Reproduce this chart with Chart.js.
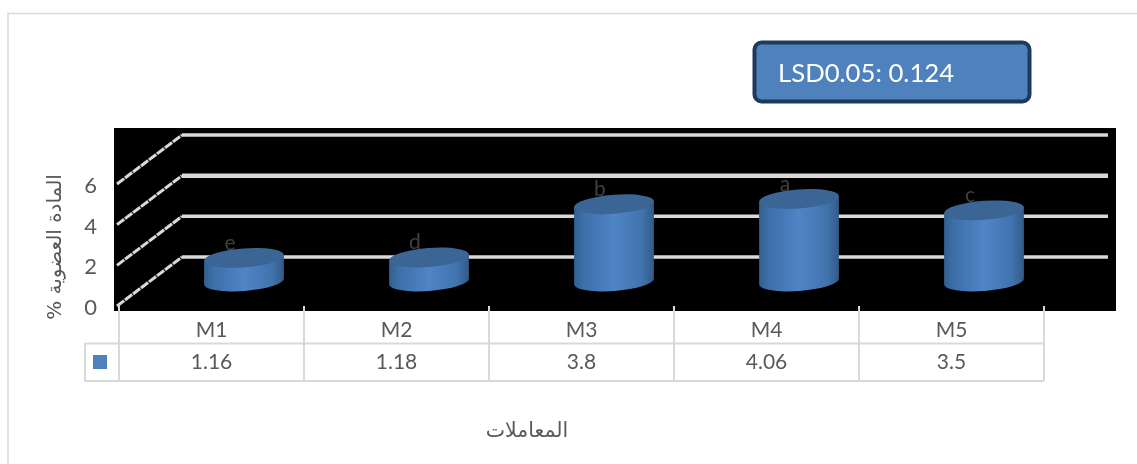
<!DOCTYPE html>
<html><head><meta charset="utf-8">
<style>html,body{margin:0;padding:0;background:#fff}#w{width:1137px;height:464px;position:relative}</style>
<script src="https://cdn.jsdelivr.net/npm/chart.js@4"></script></head>
<body><div id="w"><canvas id="c" width="1137" height="464"></canvas></div>
<script>
const categories = ["M1","M2","M3","M4","M5"];
const values = [1.16,1.18,3.8,4.06,3.5];
const valueLabels = ["1.16","1.18","3.8","4.06","3.5"];
const letters = ["e","d","b","a","c"];
const yTitle = "% المادة العضوية";
const xTitle = "المعاملات";
const noteText = "LSD0.05: 0.124";
const FONT = 'Lato, "Open Sans", sans-serif';
const DEPTH_X = 64, DEPTH_Y = 48, SHIFT = 3;

function rr(ctx,x,y,w,h,r){ctx.beginPath();ctx.roundRect(x,y,w,h,r);}
function line(ctx,x1,y1,x2,y2){ctx.beginPath();ctx.moveTo(x1,y1);ctx.lineTo(x2,y2);ctx.stroke();}

const backdrop = {
  id:'backdrop',
  beforeDraw(chart){
    const {ctx,scales:{x,y},chartArea:a}=chart;
    ctx.save();
    // frame
    ctx.strokeStyle='#d9d9d9';ctx.lineWidth=1.5;
    ctx.beginPath();ctx.moveTo(8,464);ctx.lineTo(8,13.5);ctx.lineTo(1137,13.5);ctx.stroke();
    // note box
    rr(ctx,754.5,42.5,275,59,7);ctx.fillStyle='#4f81bd';ctx.fill();
    ctx.lineWidth=4;ctx.strokeStyle='#1f3a5c';ctx.stroke();
    ctx.fillStyle='#fff';ctx.font='25.7px '+FONT;ctx.textBaseline='middle';ctx.textAlign='left';
    ctx.fillText(noteText,778,74);
    // black wall
    ctx.fillStyle='#000';ctx.fillRect(114,128,1002,183);
    // grid
    ctx.strokeStyle='#d9d9d9';
    y.ticks.forEach(t=>{
      const py=y.getPixelForValue(t.value)-SHIFT;
      ctx.lineWidth=t.value===4?4.5:3.5;
      line(ctx,a.left+DEPTH_X-1,py-DEPTH_Y,1108,py-DEPTH_Y);
      ctx.lineWidth=3;ctx.setLineDash([9,1]);
      line(ctx,a.left-2,py+1,a.left+DEPTH_X-1,py-DEPTH_Y);
      ctx.setLineDash([]);
    });
    // data table
    ctx.strokeStyle='#d9d9d9';ctx.lineWidth=2;
    const cw=x.getPixelForValue(1)-x.getPixelForValue(0);
    const L=a.left, R=a.left+cw*categories.length;
    for(let i=0;i<=categories.length;i++){
      const px=L+cw*i; line(ctx,px,306,px,381);
    }
    line(ctx,85,343.5,R,343.5);line(ctx,85,381,R,381);line(ctx,85,343,85,382);
    ctx.fillStyle='#4f81bd';ctx.fillRect(93,355,14,14);
    ctx.fillStyle='#595959';ctx.font='21px '+FONT;ctx.textAlign='center';ctx.textBaseline='middle';
    valueLabels.forEach((s,i)=>ctx.fillText(s,x.getPixelForValue(i),362.5));
    // x title
    ctx.font='20.5px "DejaVu Sans"';ctx.fillStyle='#595959';
    ctx.fillText(xTitle,527,432);
    ctx.restore();
  },
  beforeDatasetDraw(chart,args){
    const {ctx,scales:{y}}=chart;
    const meta=chart.getDatasetMeta(args.index);
    const y0=y.getPixelForValue(0)-SHIFT;
    const ox=DEPTH_X/2+0.5, oy=DEPTH_Y/2-0.5, rx=40, ry=9.5, rot=-0.075;
    ctx.save();
    meta.data.forEach((el,i)=>{
      const cx=el.x+ox, bot=y0-oy, top=el.y-SHIFT-oy;
      const dx=rx*Math.cos(rot), dy=rx*Math.sin(rot);
      // letter sits behind the cylinder top
      ctx.fillStyle='#404040';ctx.font='21px '+FONT;ctx.textAlign='center';ctx.textBaseline='middle';
      ctx.fillText(letters[i],cx-14,top-15);
      const g=ctx.createLinearGradient(cx-rx,0,cx+rx,0);
      g.addColorStop(0,'#31608f');g.addColorStop(.12,'#3d6fa8');g.addColorStop(.5,'#4f84c6');
      g.addColorStop(.85,'#4173ad');g.addColorStop(1,'#335a85');
      ctx.fillStyle=g;
      ctx.beginPath();
      ctx.moveTo(cx-dx,top-dy);
      ctx.lineTo(cx-dx,bot-dy);
      ctx.ellipse(cx,bot,rx,ry,rot,Math.PI,0,true);
      ctx.lineTo(cx+dx,top+dy);
      ctx.closePath();ctx.fill();
      ctx.fillStyle='#3b6595';
      ctx.beginPath();ctx.ellipse(cx,top,rx,ry,rot,0,Math.PI*2);ctx.fill();
    });
    ctx.restore();
    return false;
  }
};

new Chart(document.getElementById('c'),{
  type:'bar',
  data:{labels:categories,datasets:[{data:values,backgroundColor:'#4f81bd',barPercentage:.43,categoryPercentage:1}]},
  options:{
    responsive:false,animation:false,devicePixelRatio:1,
    layout:{padding:{left:44,right:93,top:186,bottom:10}},
    plugins:{legend:{display:false},tooltip:{enabled:false}},
    scales:{
      x:{
        grid:{display:false,drawTicks:false},border:{display:false},
        ticks:{color:'#595959',font:{family:FONT,size:21},padding:10,maxRotation:0},
        afterFit(s){s.height=146;}
      },
      y:{
        min:0,max:6,
        grid:{display:false,drawTicks:false},border:{display:false},
        ticks:{stepSize:2,color:'#595959',font:{family:FONT,size:22},padding:22},
        title:{display:true,text:yTitle,color:'#595959',font:{family:'"DejaVu Sans"',size:20},padding:0},
        afterFit(s){s.width=75;}
      }
    }
  },
  plugins:[backdrop]
});
</script></body></html>
